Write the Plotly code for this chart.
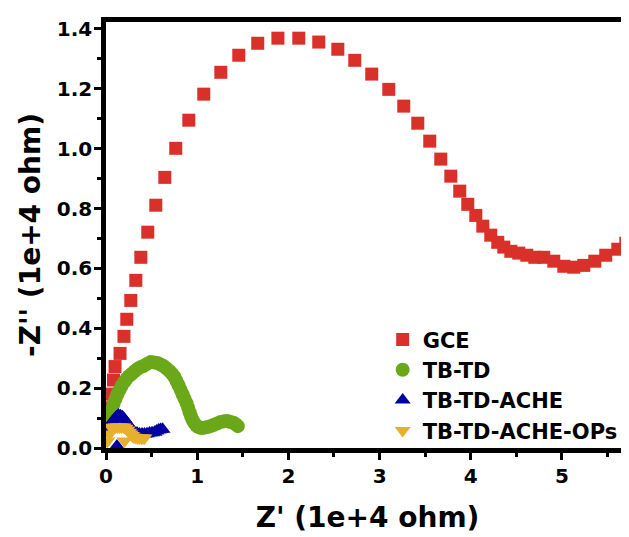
import plotly.graph_objects as go

# GCE (red squares)
gce_x = [0.027, 0.049, 0.066, 0.082, 0.099, 0.154, 0.197, 0.228, 0.272, 0.327, 0.382, 0.458,
         0.546, 0.645, 0.765, 0.908, 1.072, 1.259, 1.456, 1.664, 1.885, 2.114, 2.333, 2.542,
         2.728, 2.914, 3.101, 3.265, 3.419, 3.550, 3.671, 3.781, 3.879, 3.967, 4.055, 4.132,
         4.219, 4.296, 4.362, 4.439, 4.526, 4.614, 4.702, 4.800, 4.910, 5.020, 5.129, 5.239,
         5.360, 5.480, 5.612, 5.700]
gce_y = [0.087, 0.134, 0.180, 0.227, 0.272, 0.316, 0.373, 0.430, 0.493, 0.560, 0.637, 0.721,
         0.811, 0.904, 1.001, 1.095, 1.182, 1.255, 1.312, 1.352, 1.369, 1.369, 1.356, 1.332,
         1.295, 1.249, 1.198, 1.142, 1.085, 1.025, 0.965, 0.908, 0.858, 0.814, 0.777, 0.741,
         0.711, 0.687, 0.671, 0.657, 0.651, 0.644, 0.637, 0.637, 0.624, 0.607, 0.604, 0.610,
         0.624, 0.644, 0.664, 0.684]

# TB-TD (green circles)
tbtd_x = [0.028, 0.038, 0.049, 0.065, 0.082, 0.104, 0.126, 0.148, 0.170, 0.198, 0.225, 0.252,
          0.280, 0.312, 0.345, 0.378, 0.411, 0.450, 0.488, 0.527, 0.565, 0.598, 0.630, 0.663,
          0.696, 0.724, 0.751, 0.773, 0.795, 0.817, 0.839, 0.861, 0.883, 0.900, 0.916, 0.932,
          0.948, 0.970, 0.992, 1.020, 1.047, 1.080, 1.113, 1.146, 1.179, 1.218, 1.256, 1.294,
          1.332, 1.365, 1.398, 1.425, 1.445]
tbtd_y = [0.084, 0.097, 0.110, 0.128, 0.147, 0.164, 0.180, 0.194, 0.207, 0.220, 0.231, 0.240,
          0.247, 0.256, 0.264, 0.270, 0.274, 0.281, 0.287, 0.286, 0.284, 0.279, 0.274, 0.266,
          0.257, 0.248, 0.237, 0.224, 0.210, 0.195, 0.180, 0.165, 0.150, 0.135, 0.120, 0.107,
          0.094, 0.083, 0.074, 0.069, 0.067, 0.068, 0.070, 0.073, 0.077, 0.082, 0.087, 0.089,
          0.090, 0.087, 0.084, 0.079, 0.073]

# TB-TD-ACHE (blue up-triangles)
ache_x = [0.120, 0.016, 0.032, 0.049, 0.071, 0.093, 0.115, 0.137, 0.159, 0.181, 0.203, 0.225,
          0.247, 0.269, 0.290, 0.312, 0.340, 0.367, 0.395, 0.422, 0.450, 0.477, 0.505, 0.532,
          0.554, 0.576, 0.598, 0.620]
ache_y = [0.007, 0.063, 0.072, 0.080, 0.089, 0.097, 0.104, 0.110, 0.108, 0.104, 0.096, 0.087,
          0.077, 0.067, 0.060, 0.053, 0.050, 0.047, 0.047, 0.047, 0.048, 0.050, 0.051, 0.053,
          0.057, 0.060, 0.062, 0.063]

# TB-TD-ACHE-OPs (yellow down-triangles)
ops_x = [0.016, 0.038, 0.060, 0.082, 0.104, 0.126, 0.148, 0.170, 0.192, 0.203, 0.214, 0.236,
         0.253, 0.269, 0.285, 0.302, 0.323, 0.345, 0.367, 0.389, 0.405, 0.422]
ops_y = [0.023, 0.047, 0.067, 0.069, 0.070, 0.070, 0.070, 0.070, 0.070, 0.023, 0.066, 0.060,
         0.053, 0.047, 0.042, 0.037, 0.035, 0.033, 0.033, 0.033, 0.033, 0.033]

x_tick_vals = [0, 1, 2, 3, 4, 5]
x_tick_text = ["0", "1", "2", "3", "4", "5"]
y_tick_vals = [0.0, 0.2, 0.4, 0.6, 0.8, 1.0, 1.2, 1.4]
y_tick_text = ["0.0", "0.2", "0.4", "0.6", "0.8", "1.0", "1.2", "1.4"]

FONT = "DejaVu Sans"

fig = go.Figure()
fig.add_trace(go.Scatter(x=gce_x, y=gce_y, mode="markers", name="GCE",
                         marker=dict(symbol="square", size=13, color="#D9302A", line=dict(width=0))))
fig.add_trace(go.Scatter(x=tbtd_x, y=tbtd_y, mode="markers", name="TB-TD",
                         marker=dict(symbol="circle", size=14, color="#6AA81A", line=dict(width=0))))
fig.add_trace(go.Scatter(x=ache_x, y=ache_y, mode="markers", name="TB-TD-ACHE",
                         marker=dict(symbol="triangle-up", size=14, color="#0000A0", line=dict(width=0))))
fig.add_trace(go.Scatter(x=ops_x, y=ops_y, mode="markers", name="TB-TD-ACHE-OPs",
                         marker=dict(symbol="triangle-down", size=14, color="#E8AF2F", line=dict(width=0))))

fig.update_layout(
    width=629, height=537,
    margin=dict(l=98, r=8, t=14, b=97),
    paper_bgcolor="white", plot_bgcolor="white",
    font=dict(family=FONT, color="black"),
    legend=dict(x=0.529, y=0.302, xanchor="left", yanchor="top",
                bgcolor="rgba(0,0,0,0)", borderwidth=0,
                font=dict(family=FONT, size=21, color="black", weight="bold")),
    xaxis=dict(range=[0, 5.735], tickmode="array", tickvals=x_tick_vals, ticktext=x_tick_text,
               showgrid=False, zeroline=False, showline=True, linecolor="black", linewidth=4.5,
               mirror=True, ticks="outside", ticklen=7, tickwidth=3, tickcolor="black",
               ticklabelstandoff=-1,
               minor=dict(dtick=0.5, ticks="outside", ticklen=4, tickwidth=2.5, tickcolor="black"),
               tickfont=dict(family=FONT, size=20, color="black", weight="bold"),
               title=dict(text="Z' (1e+4 ohm)", standoff=22,
                          font=dict(family=FONT, size=28, color="black", weight="bold"))),
    yaxis=dict(range=[0, 1.423], tickmode="array", tickvals=y_tick_vals, ticktext=y_tick_text,
               showgrid=False, zeroline=False, showline=True, linecolor="black", linewidth=4.5,
               mirror=False, ticks="outside", ticklen=7, tickwidth=3, tickcolor="black",
               ticklabelstandoff=-2,
               minor=dict(dtick=0.1, ticks="outside", ticklen=4, tickwidth=2.5, tickcolor="black"),
               tickfont=dict(family=FONT, size=20, color="black", weight="bold"),
               title=dict(text="-Z'' (1e+4 ohm)", standoff=10,
                          font=dict(family=FONT, size=28, color="black", weight="bold"))),
    showlegend=True,
)

fig.write_html("out.html")
